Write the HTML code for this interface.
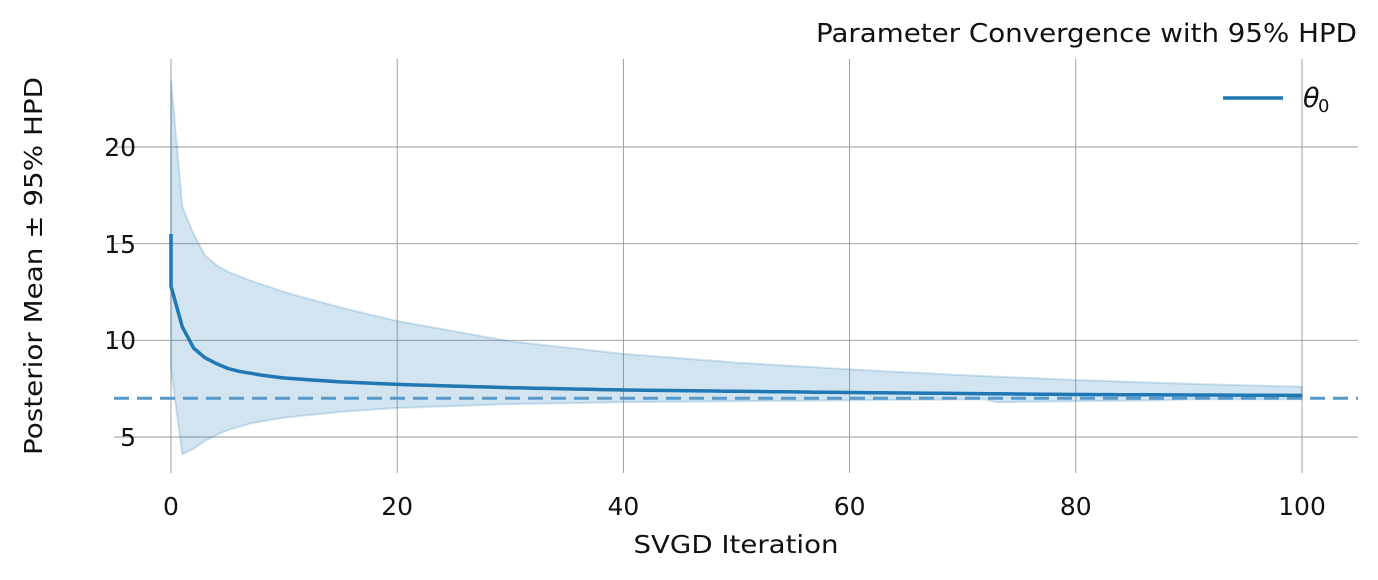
<!DOCTYPE html>
<html><head><meta charset="utf-8"><style>
body{margin:0;background:#fff;}
svg{display:block;font-family:"DejaVu Sans","Liberation Sans",sans-serif;}
</style></head><body>
<svg id="s" width="1378" height="580" xmlns="http://www.w3.org/2000/svg">
<g stroke="#999" stroke-width="0.9">
<line x1="114" y1="147" x2="1358" y2="147"/>
<line x1="114" y1="243.7" x2="1358" y2="243.7"/>
<line x1="114" y1="340.3" x2="1358" y2="340.3"/>
<line x1="114" y1="437" x2="1358" y2="437"/>
<line x1="171" y1="59" x2="171" y2="473"/>
<line x1="397.2" y1="59" x2="397.2" y2="473"/>
<line x1="623.4" y1="59" x2="623.4" y2="473"/>
<line x1="849.6" y1="59" x2="849.6" y2="473"/>
<line x1="1075.8" y1="59" x2="1075.8" y2="473"/>
<line x1="1302" y1="59" x2="1302" y2="473"/>
</g>
<path id="band" fill="#1f77b4" fill-opacity="0.2" stroke="#1f77b4" stroke-opacity="0.2" stroke-width="2"/>
<line x1="114" y1="398.3" x2="1358" y2="398.3" stroke="#5799c9" stroke-width="3" stroke-dasharray="15,8"/>
<path id="mean" fill="none" stroke="#1f77b4" stroke-width="3.5"/>
<line x1="1223" y1="98" x2="1283" y2="98" stroke="#1f77b4" stroke-width="3.5"/>
<text x="1303" y="107" font-size="27" font-style="italic" fill="#111">θ</text>
<text x="1318" y="112" font-size="18" fill="#111">0</text>
<text x="1357" y="42" font-size="26" text-anchor="end" fill="#111" textLength="541" lengthAdjust="spacingAndGlyphs">Parameter Convergence with 95% HPD</text>
<g font-size="25" fill="#111" text-anchor="middle">
<text x="171" y="515">0</text><text x="397.2" y="515">20</text><text x="623.4" y="515">40</text>
<text x="849.6" y="515">60</text><text x="1075.8" y="515">80</text><text x="1302" y="515">100</text>
<text x="736" y="553" textLength="205" lengthAdjust="spacingAndGlyphs">SVGD Iteration</text>
</g>
<g font-size="25" fill="#111" text-anchor="end">
<text x="136" y="156">20</text><text x="136" y="253">15</text><text x="136" y="349">10</text><text x="136" y="446">5</text>
</g>
<text transform="translate(42,266) rotate(-90)" font-size="25" text-anchor="middle" fill="#111" textLength="378" lengthAdjust="spacingAndGlyphs">Posterior Mean ± 95% HPD</text>
</svg>
<script>
function X(v){return 171+v*11.31;}
function Y(v){return 437-(v-5)*19.333;}
function interp(pts,x){for(var i=0;i<pts.length-1;i++){if(x>=pts[i][0]&&x<=pts[i+1][0]){var t=(x-pts[i][0])/(pts[i+1][0]-pts[i][0]);return pts[i][1]+t*(pts[i+1][1]-pts[i][1]);}}return pts[pts.length-1][1];}
var M=[[0,12.8],[1,10.7],[2,9.6],[3,9.1],[4,8.8],[5,8.55],[6,8.4],[8,8.2],[10,8.05],[15,7.85],[20,7.72],[30,7.55],[40,7.43],[60,7.3],[80,7.2],[100,7.15]];
var U=[[0,23.5],[1,16.9],[2,15.5],[3,14.4],[4,13.9],[5,13.55],[7,13.1],[10,12.5],[15,11.7],[20,11.0],[30,9.95],[40,9.3],[50,8.85],[60,8.5],[70,8.2],[80,7.95],[90,7.75],[100,7.6]];
var L=[[0,8.5],[1,4.1],[2,4.4],[3,4.8],[4,5.1],[5,5.35],[7,5.7],[10,6.0],[15,6.3],[20,6.5],[30,6.7],[40,6.8],[60,6.9],[72,6.95],[73,6.8],[80,6.85],[88,6.9],[90,6.95],[100,6.95]];
var m="M"+X(0)+","+Y(15.5)+" L"+X(0)+","+Y(12.8);
for(var i=1;i<=100;i++)m+=" L"+X(i).toFixed(1)+","+Y(interp(M,i)).toFixed(1);
document.getElementById("mean").setAttribute("d",m);
var b="M"+X(0)+","+Y(23.5);
for(var i=1;i<=100;i++)b+=" L"+X(i).toFixed(1)+","+Y(interp(U,i)).toFixed(1);
for(var i=100;i>=0;i--)b+=" L"+X(i).toFixed(1)+","+Y(interp(L,i)).toFixed(1);
document.getElementById("band").setAttribute("d",b+"Z");
</script>
</body></html>
